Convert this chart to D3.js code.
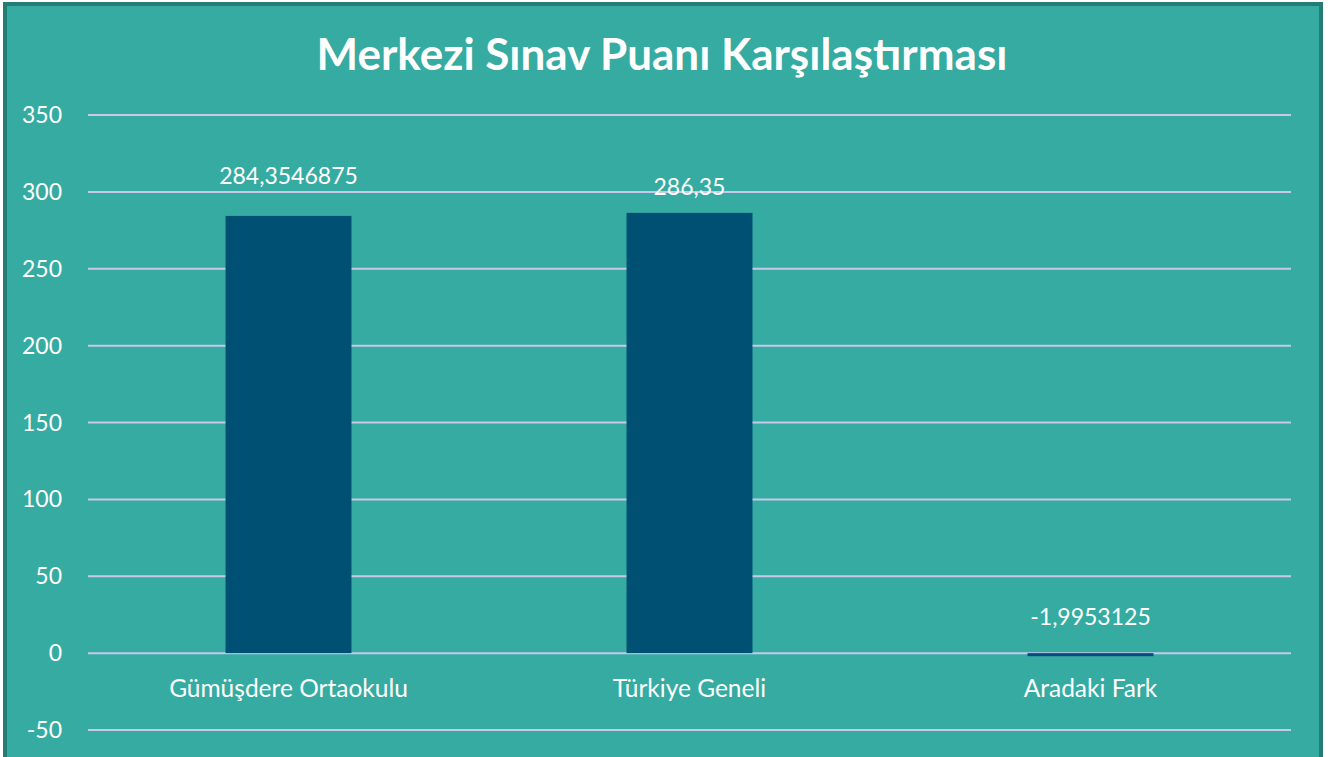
<!DOCTYPE html>
<html>
<head>
<meta charset="utf-8">
<script src="https://cdn.jsdelivr.net/npm/d3@7"></script>
<style>
  body { margin: 0; background: #ffffff; }
  svg { display: block; }
  text { font-family: Lato, "Open Sans", sans-serif; fill: #ffffff; }
</style>
</head>
<body>
<svg id="chart" width="1334" height="757"></svg>
<script>
var categories = ["Gümüşdere Ortaokulu", "Türkiye Geneli", "Aradaki Fark"];
var values = [284.3546875, 286.35, -1.9953125];
var valueLabels = ["284,3546875", "286,35", "-1,9953125"];
var yTicks = [-50, 0, 50, 100, 150, 200, 250, 300, 350];

var svg = d3.select("#chart");

// frame
svg.append("rect")
    .attr("x", 5).attr("y", 4)
    .attr("width", 1316).attr("height", 770)
    .attr("fill", "#35aba2")
    .attr("stroke", "#237d74")
    .attr("stroke-width", 4);

svg.append("text")
    .text("Merkezi Sınav Puanı Karşılaştırması")
    .attr("x", 662)
    .attr("y", 70)
    .attr("text-anchor", "middle")
    .attr("font-size", 44)
    .attr("font-weight", "bold");

var x = d3.scaleBand().domain(categories).range([88, 1291]).paddingInner(0).paddingOuter(0);
var y = d3.scaleLinear().domain([-50, 350]).range([730, 115]);

// gridlines
svg.append("g").selectAll("line")
    .data(yTicks)
    .enter().append("line")
    .attr("x1", 88).attr("x2", 1291)
    .attr("y1", function(d){ return y(d); })
    .attr("y2", function(d){ return y(d); })
    .attr("stroke", "#c8c8ea")
    .attr("stroke-width", 2);

// y tick labels
svg.append("g").selectAll("text")
    .data(yTicks)
    .enter().append("text")
    .text(function(d){ return d; })
    .attr("x", 62)
    .attr("y", function(d){ return y(d) + 8; })
    .attr("text-anchor", "end")
    .attr("font-size", 23);

var barW = x.bandwidth() * 0.314;

svg.append("g").selectAll("rect")
    .data(values)
    .enter().append("rect")
    .attr("x", function(d, i){ return x(categories[i]) + x.bandwidth()/2 - barW/2; })
    .attr("y", function(d){ return Math.min(y(d), y(0)); })
    .attr("width", barW)
    .attr("height", function(d){ return Math.abs(y(d) - y(0)); })
    .attr("fill", function(d){ return d < 0 ? "#0b4a80" : "#005073"; });

// data labels (the labels sit at slightly different heights in the original)
var labelGap = [32, 18, 28];
svg.append("g").selectAll("text")
    .data(values)
    .enter().append("text")
    .text(function(d, i){ return valueLabels[i]; })
    .attr("x", function(d, i){ return x(categories[i]) + x.bandwidth()/2; })
    .attr("y", function(d, i){ return Math.min(y(d), y(0)) - labelGap[i]; })
    .attr("text-anchor", "middle")
    .attr("font-size", 23);

// category labels
svg.append("g").selectAll("text")
    .data(categories)
    .enter().append("text")
    .text(function(d){ return d; })
    .attr("x", function(d){ return x(d) + x.bandwidth()/2; })
    .attr("y", 697)
    .attr("text-anchor", "middle")
    .attr("font-size", 24.5);
</script>
</body>
</html>
